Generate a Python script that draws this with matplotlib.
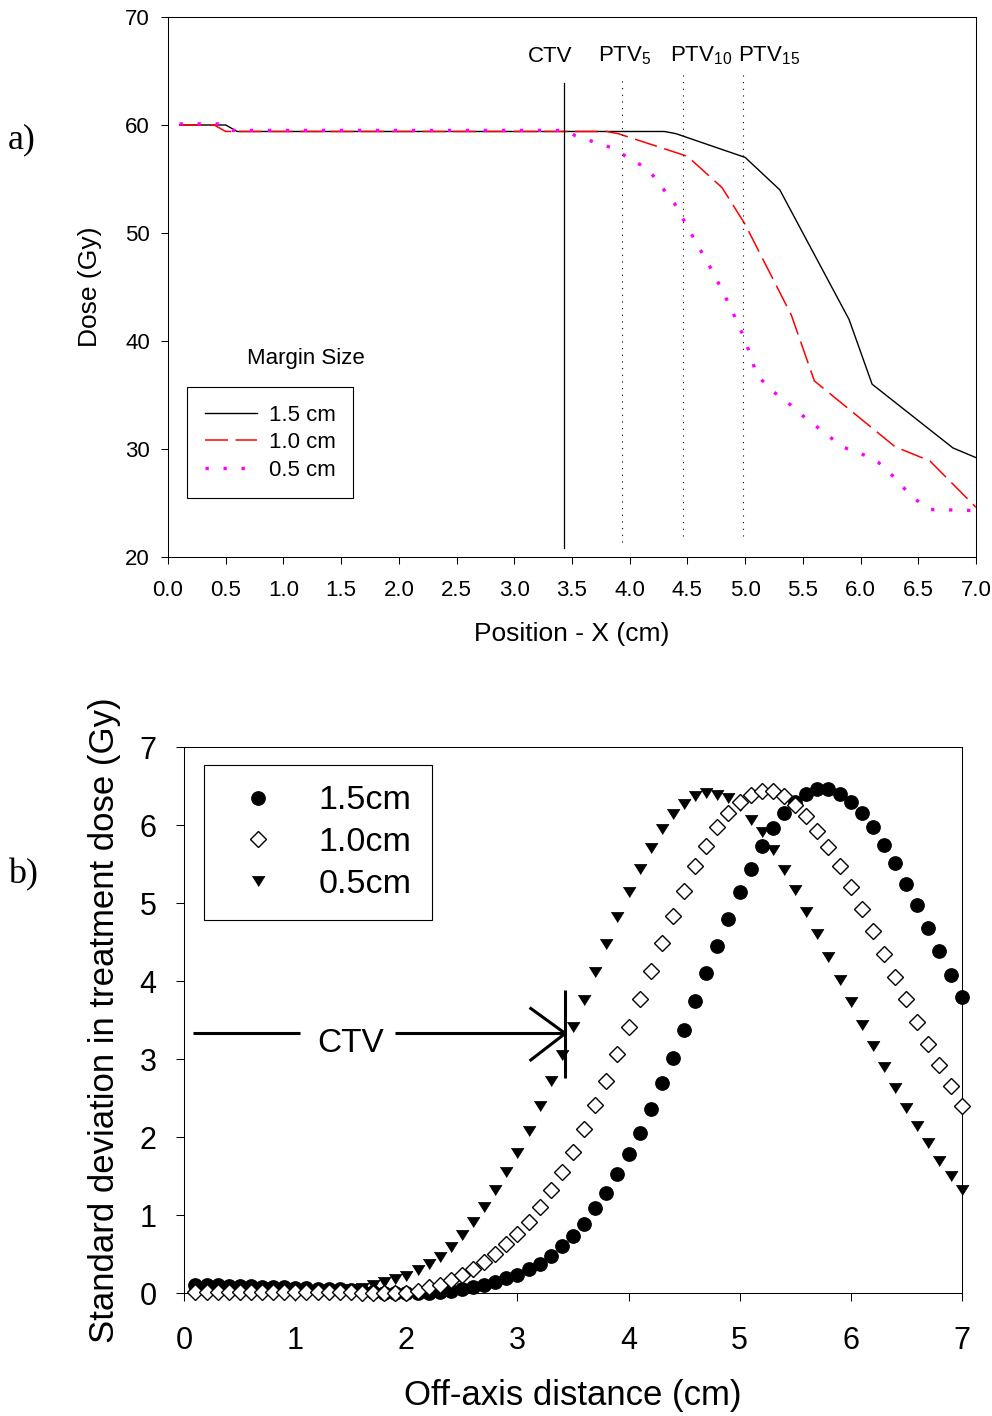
import matplotlib
matplotlib.use('Agg')
import matplotlib.pyplot as plt

plt.rcParams['font.family'] = ['Liberation Sans', 'DejaVu Sans']
plt.rcParams['mathtext.fontset'] = 'custom'
plt.rcParams['mathtext.rm'] = 'Liberation Sans'
plt.rcParams['mathtext.it'] = 'Liberation Sans:italic'
plt.rcParams['mathtext.bf'] = 'Liberation Sans:bold'

# ---------------- Panel a) data: dose profiles ----------------
x_15 = [0.1, 0.5, 0.6, 4.3, 4.4, 5.0, 5.3, 5.9, 6.1, 6.8, 7.0]
dose_15 = [60.0, 60.0, 59.4, 59.4, 59.2, 57.0, 54.0, 42.0, 36.0, 30.1, 29.2]

x_10 = [0.1, 0.4, 0.5, 3.8, 3.9, 4.5, 4.8, 5.0, 5.2, 5.4, 5.6, 6.3, 6.6, 7.0]
dose_10 = [60.0, 60.0, 59.4, 59.4, 59.2, 57.1, 54.2, 50.8, 46.6, 42.4, 36.3, 30.2, 28.9, 24.6]

x_05 = [0.1, 0.45, 0.55, 3.45, 3.53, 3.84, 4.16, 4.39, 4.55, 4.72, 4.87, 5.0,
        5.1, 5.22, 5.38, 5.53, 5.69, 5.84, 6.0, 6.15, 6.3, 6.44, 6.6, 7.0]
dose_05 = [60.1, 60.1, 59.5, 59.5, 59.0, 57.9, 55.9, 52.7, 49.6, 46.4, 43.2, 40.1,
           36.9, 35.5, 34.2, 32.8, 31.5, 30.2, 29.6, 28.8, 27.3, 25.6, 24.4, 24.3]

line_labels = ['1.5 cm', '1.0 cm', '0.5 cm']
ctv_x_a = 3.43
ptv_x = [3.93, 4.46, 4.98]
ptv_top = [64.35, 64.8, 64.9]
ptv_bottom = [21.4, 21.9, 21.9]
ptv_labels = [r'PTV$_{5}$', r'PTV$_{10}$', r'PTV$_{15}$']
ptv_label_x = [3.725, 4.35, 4.94]
a_xticks = [0.0, 0.5, 1.0, 1.5, 2.0, 2.5, 3.0, 3.5, 4.0, 4.5, 5.0, 5.5, 6.0, 6.5, 7.0]
a_yticks = [20, 30, 40, 50, 60, 70]

# ---------------- Panel b) data: standard deviation ----------------
off_axis = [round(0.1 * i, 1) for i in range(1, 71)]
sd_15 = [0.10, 0.10, 0.10, 0.09, 0.09, 0.09, 0.08, 0.08, 0.08, 0.07,
         0.07, 0.06, 0.05, 0.05, 0.04, 0.03, 0.02, 0.01, 0.01, 0.00,
         0.00, 0.01, 0.02, 0.03, 0.05, 0.08, 0.11, 0.15, 0.19, 0.24,
         0.31, 0.38, 0.48, 0.60, 0.74, 0.89, 1.09, 1.29, 1.53, 1.78,
         2.06, 2.36, 2.69, 3.02, 3.37, 3.74, 4.10, 4.45, 4.80, 5.14,
         5.44, 5.73, 5.96, 6.16, 6.29, 6.40, 6.46, 6.46, 6.40, 6.30,
         6.15, 5.97, 5.75, 5.51, 5.25, 4.97, 4.68, 4.38, 4.08, 3.80]
sd_10 = [0.02, 0.02, 0.02, 0.02, 0.02, 0.02, 0.02, 0.02, 0.02, 0.02,
         0.02, 0.02, 0.02, 0.02, 0.02, 0.01, 0.01, 0.01, 0.01, 0.01,
         0.035, 0.075, 0.11, 0.165, 0.23, 0.31, 0.40, 0.50, 0.63, 0.76,
         0.915, 1.10, 1.33, 1.56, 1.81, 2.10, 2.41, 2.72, 3.06, 3.41,
         3.77, 4.13, 4.49, 4.83, 5.15, 5.47, 5.73, 5.98, 6.15, 6.30,
         6.39, 6.44, 6.44, 6.37, 6.26, 6.11, 5.93, 5.72, 5.47, 5.21,
         4.92, 4.64, 4.35, 4.05, 3.77, 3.47, 3.19, 2.92, 2.65, 2.40]
sd_05 = [0.0, 0.0, 0.0, 0.0, 0.0, 0.0, 0.0, 0.0, 0.0, 0.0,
         0.0, 0.0, 0.01, 0.03, 0.05, 0.07, 0.10, 0.14, 0.18, 0.22,
         0.30, 0.38, 0.47, 0.595, 0.745, 0.915, 1.11, 1.32, 1.55, 1.80,
         2.08, 2.40, 2.72, 3.05, 3.41, 3.76, 4.12, 4.48, 4.82, 5.14,
         5.44, 5.71, 5.95, 6.14, 6.27, 6.37, 6.41, 6.39, 6.35, 6.24,
         6.07, 5.91, 5.68, 5.43, 5.17, 4.89, 4.61, 4.31, 4.02, 3.73,
         3.44, 3.17, 2.90, 2.63, 2.38, 2.15, 1.92, 1.70, 1.50, 1.33]
marker_labels = ['1.5cm', '1.0cm', '0.5cm']
ctv_x_b = 3.43
ctv_y_b = 3.33
b_ticks = [0, 1, 2, 3, 4, 5, 6, 7]

W, H = 992, 1416
fig = plt.figure(figsize=(W / 100, H / 100), dpi=100)

# ================= Panel a =================
ax1 = fig.add_axes([168 / W, 1 - 557 / H, 808 / W, 540 / H])
l1, = ax1.plot(x_15, dose_15, color='black', lw=1.0)
l2, = ax1.plot(x_10, dose_10, color='#ff0000', lw=1.1, dashes=(15, 5))
l3, = ax1.plot(x_05, dose_05, color='#ff00ff', lw=2.4, dashes=(1, 4.4))
ax1.plot([ctv_x_a, ctv_x_a], [20.8, 63.9], color='black', lw=0.9)
for px, pt, pb in zip(ptv_x, ptv_top, ptv_bottom):
    ax1.plot([px, px], [pb, pt], color='black', lw=0.8, dashes=(1, 5))
ax1.text(3.31, 65.85, 'CTV', ha='center', va='baseline', fontsize=16)
for lx, lab in zip(ptv_label_x, ptv_labels):
    ax1.text(lx, 65.85, lab, ha='left', va='baseline', fontsize=16)
ax1.text(0.684, 38.4, 'Margin Size', ha='left', va='center', fontsize=16)

ax1.set_xlim(0, 7)
ax1.set_ylim(20, 70)
ax1.set_xticks(a_xticks)
ax1.set_xticklabels(['%.1f' % t for t in a_xticks])
ax1.set_yticks(a_yticks)
ax1.tick_params(direction='out', length=5, width=0.75, labelsize=16, pad=8)
ax1.tick_params(axis='x', pad=11.5)
for sp in ax1.spines.values():
    sp.set_linewidth(0.75)
ax1.set_xlabel('Position - X (cm)', fontsize=19)
ax1.xaxis.label.set_verticalalignment('center')
ax1.xaxis.set_label_coords(0.5, -(634 - 557) / 540)
ax1.set_ylabel('Dose (Gy)', fontsize=19)
ax1.yaxis.label.set_verticalalignment('center')
ax1.yaxis.set_label_coords((90 - 168) / 808, 0.5)

leg1 = ax1.legend([l1, l2, l3], line_labels, loc='upper left',
                  bbox_to_anchor=((187 - 168) / 808, (557 - 387) / 540),
                  borderaxespad=0, fontsize=16, handlelength=2.34,
                  handletextpad=0.54, borderpad=0.8, labelspacing=0.29,
                  frameon=True, fancybox=False, edgecolor='black', framealpha=1)
leg1.get_frame().set_linewidth(0.8)

# ================= Panel b =================
ax2 = fig.add_axes([184.3 / W, 1 - 1293.3 / H, 777.4 / W, 546.3 / H])
tri = [(-1, 0.8), (1, 0.8), (0, -0.8)]
h1, = ax2.plot(off_axis, sd_15, ls='none', marker='o', ms=9.6, mfc='black',
               mec='black', zorder=3, clip_on=False)
h3, = ax2.plot(off_axis, sd_05, ls='none', marker=tri, ms=9.2, mfc='black',
               mec='black', mew=0.5, zorder=4, clip_on=False)
h2, = ax2.plot(off_axis, sd_10, ls='none', marker='D', ms=8.0, mfc='white',
               mec='black', mew=1.0, zorder=5, clip_on=False)

# CTV arrow annotation
lwa = 2.2
ax2.plot([0.078, 1.04], [ctv_y_b, ctv_y_b], color='black', lw=lwa, solid_capstyle='butt')
ax2.plot([1.90, ctv_x_b], [ctv_y_b, ctv_y_b], color='black', lw=lwa, solid_capstyle='butt')
ax2.plot([3.12, ctv_x_b, 3.12], [3.65, ctv_y_b, 2.99], color='black', lw=lwa)
ax2.plot([ctv_x_b, ctv_x_b], [2.755, 3.89], color='black', lw=lwa, solid_capstyle='butt')
ax2.text(1.50, 3.20, 'CTV', ha='center', va='center', fontsize=24)

ax2.set_xlim(0, 7)
ax2.set_ylim(0, 7)
ax2.set_xticks(b_ticks)
ax2.set_yticks(b_ticks)
ax2.tick_params(direction='out', length=6, width=0.75, labelsize=22, pad=14)
ax2.tick_params(axis='x', pad=17.5)
for sp in ax2.spines.values():
    sp.set_linewidth(0.75)
ax2.set_xlabel('Off-axis distance (cm)', fontsize=25)
ax2.xaxis.label.set_verticalalignment('center')
ax2.xaxis.set_label_coords(0.5, -(1395 - 1293.3) / 546.3)
ax2.set_ylabel('Standard deviation in treatment dose (Gy)', fontsize=25)
ax2.yaxis.label.set_verticalalignment('center')
ax2.yaxis.set_label_coords((105 - 184.3) / 777.4, 0.5)

leg2 = ax2.legend([h1, h2, h3], marker_labels, loc='upper left',
                  bbox_to_anchor=((204 - 184.3) / 777.4, (1293.3 - 765) / 546.3),
                  borderaxespad=0, fontsize=24.5, handlelength=1.95,
                  handletextpad=0.82, borderpad=0.6, labelspacing=0.31,
                  numpoints=1, frameon=True, fancybox=False, edgecolor='black',
                  framealpha=1)
leg2.get_frame().set_linewidth(0.8)

# Panel labels
fig.text(8 / W, 1 - 140 / H, 'a)', family=['Liberation Serif', 'DejaVu Serif'],
         fontsize=26, ha='left', va='center')
fig.text(8 / W, 1 - 875 / H, 'b)', family=['Liberation Serif', 'DejaVu Serif'],
         fontsize=26, ha='left', va='center')

fig.savefig('out.png', dpi=100)
